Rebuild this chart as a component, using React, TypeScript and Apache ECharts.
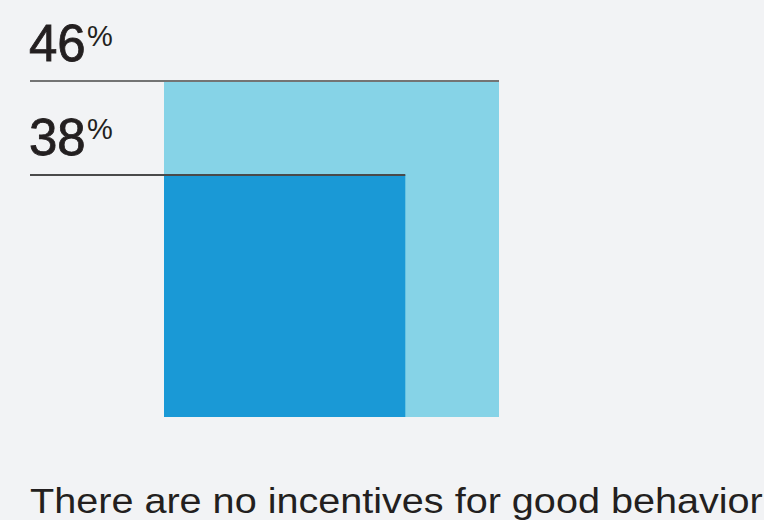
import React, { useEffect, useRef } from "react";
import * as echarts from "echarts";

const values = [46, 38];
const valueLabels = ["46", "38"];
const percentSign = "%";
const caption = "There are no incentives for good behavior";

const AXIS_MIN = 17.4;
const AXIS_MAX = 46;
const FILLS = ["#86d3e7", "#1a99d6"];
const LINES = ["#747474", "#4a4a4a"];
const FONT = "'Liberation Sans', Arial, Helvetica, sans-serif";
const TEXT = "#231f20";

export default function App() {
  const ref = useRef<HTMLDivElement>(null);
  useEffect(() => {
    document.body.style.margin = "0";
    const chart = echarts.init(ref.current!, null, { renderer: "svg" });
    chart.setOption({
      animation: false,
      backgroundColor: "#f2f3f5",
      grid: { left: 164, top: 81, width: 335, height: 336 },
      xAxis: { type: "value", min: AXIS_MIN, max: AXIS_MAX, show: false },
      yAxis: { type: "value", min: AXIS_MIN, max: AXIS_MAX, show: false },
      graphic: [
        {
          type: "text",
          x: 30,
          y: 483,
          scaleX: 1.1,
          style: { text: caption, fontSize: 36, fontFamily: FONT, fill: TEXT, align: "left", verticalAlign: "top" },
        },
      ],
      series: [
        {
          type: "custom",
          clip: false,
          data: values.map((v) => [v]),
          renderItem: (params: any, api: any) => {
            const idx = params.dataIndex;
            const v = api.value(0);
            const p0 = api.coord([AXIS_MIN, AXIS_MIN]);
            const p1 = api.coord([v, v]);
            return {
              type: "group",
              children: [
                {
                  type: "rect",
                  shape: { x: p0[0], y: p1[1], width: p1[0] - p0[0], height: p0[1] - p1[1] },
                  style: { fill: FILLS[idx] },
                },
                {
                  type: "line",
                  shape: { x1: 30, y1: p1[1], x2: p1[0], y2: p1[1] },
                  style: { stroke: LINES[idx], lineWidth: 2 },
                },
                {
                  type: "text",
                  x: 29,
                  y: p1[1] - 12,
                  style: {
                    text: valueLabels[idx],
                    fontSize: 51,
                    fontFamily: FONT,
                    fill: TEXT,
                    stroke: TEXT,
                    lineWidth: 0.8,
                    align: "left",
                    verticalAlign: "bottom",
                  },
                },
                {
                  type: "text",
                  x: 87,
                  y: p1[1] - 60,
                  style: {
                    text: percentSign,
                    fontSize: 29,
                    fontFamily: FONT,
                    fill: TEXT,
                    align: "left",
                    verticalAlign: "top",
                  },
                },
              ],
            };
          },
        },
      ],
    });
    return () => chart.dispose();
  }, []);
  return <div ref={ref} style={{ width: 764, height: 520 }} />;
}
